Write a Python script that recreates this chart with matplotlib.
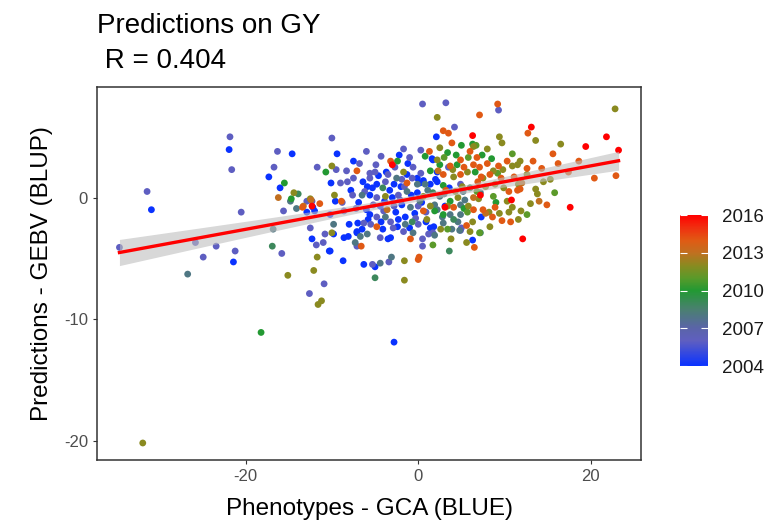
import numpy as np
import matplotlib
matplotlib.use("Agg")
import matplotlib.pyplot as plt
from matplotlib.colors import LinearSegmentedColormap, Normalize

plt.rcParams['font.family'] = ['Liberation Sans', 'DejaVu Sans']
plt.rcParams['axes.unicode_minus'] = False

# points, grouped by year (GCA BLUE, GEBV BLUP)
pts_2004 = [(-21.9, 3.95), (-30.9, -1.0), (-17.3, 1.7), (-21.4, -5.3), (-2.8, -11.9), (-8.7, -5.2),
            (-6.3, -5.5), (-5.0, -5.7), (-9.8, -3.0), (-8.6, -3.3), (-8.1, -3.2), (-7.1, -2.9),
            (-10.2, -4.4), (6.3, -3.5), (7.3, -1.6), (3.6, 0.8), (2.1, 5.0), (-14.6, 3.6), (-9.4, 3.6),
            (-16.0, 0.8), (-12.2, -0.8), (-12.9, -1.2), (-10.1, 1.2), (-9.6, -0.3), (-10.2, -1.4),
            (-8.0, -2.2), (-7.1, -2.8), (-7.0, -2.1), (-12.3, -3.4), (-10.3, -4.4), (-3.7, 2.1),
            (1.6, 3.2), (0.6, 1.4), (2.2, 1.3), (-6.4, 1.3), (-5.9, 0.9), (-4.8, 1.1), (-2.8, 1.1),
            (1.4, 1.1), (-0.1, 0.4), (-5.6, 0.2), (-3.0, 0.0), (-4.4, -0.7), (-1.9, -0.6), (-5.6, -1.4),
            (-2.3, -1.8), (-4.1, -2.6), (-2.4, -2.4), (1.4, -2.5), (-3.2, -3.3), (-12.0, -1.1),
            (-1.3, 1.9), (-0.1, 1.6), (0.2, 1.2), (-3.5, -3.4), (-1.0, -2.5), (-5.8, -1.8),
            (1.7, 3.1), (2.0, 1.5), (3.1, -0.7), (2.2, 2.1), (1.8, -2.4),
            (-7.8, 0.6), (-6.9, -0.4), (-6.0, -1.0), (-5.3, 0.8), (-4.6, 1.8), (-3.9, -0.3),
            (-3.3, 0.6), (-2.6, -1.2), (-2.0, 0.9), (-1.5, -1.6), (-0.8, 0.2), (-0.4, -1.3),
            (0.4, -0.4), (0.9, -2.0), (-6.5, -2.6), (-4.3, -2.0), (-1.2, 2.8), (-2.2, 3.5), (-7.5, 3.0)]
pts_2006 = [(-21.8, 5.0), (-21.6, 2.3), (-31.4, 0.5), (-20.5, -1.2), (-16.7, 2.5), (-34.6, -4.1),
            (-25.8, -3.7), (-23.4, -4.0), (-21.2, -4.4), (-24.9, -4.9), (-10.9, -7.1), (-12.6, -7.9),
            (-5.3, -5.5), (-3.4, -5.3), (-7.1, -4.0), (0.5, -3.4), (0.5, -4.0), (1.2, -3.0), (1.7, -2.9),
            (4.9, -2.7), (3.2, 7.8), (9.3, 7.2), (4.2, 5.8), (3.5, 2.5), (4.9, 1.1), (5.0, -2.5),
            (0.5, 7.7), (0.3, 3.9), (-1.7, 4.0), (-10.0, 4.9), (-16.3, 3.8), (-11.7, 2.5), (-8.3, 2.2),
            (-12.9, -0.3), (-15.6, -1.1), (-9.0, 1.2), (-8.2, 1.3), (-7.5, 1.6), (-7.6, 0.2),
            (-8.6, -1.1), (-10.8, -3.0), (-6.3, -2.1), (-11.8, -3.9), (-15.8, -4.6), (-5.6, 2.0),
            (-5.0, 2.1), (-2.7, 2.5), (-0.6, 2.5), (-5.6, 1.6), (-3.8, 1.3), (-1.9, 1.5), (-0.7, 1.6),
            (-4.8, 0.0), (-2.3, 0.2), (-5.2, -0.6), (-2.8, -0.7), (0.0, -0.7), (-4.8, -1.6),
            (-3.2, -2.0), (0.0, -2.2), (-1.7, -2.8), (-4.4, -3.3), (-12.5, -2.5), (-11.0, -3.7),
            (-12.3, -0.3), (-6.8, 2.8), (-4.3, 3.4),
            (-7.2, -0.9), (-6.2, 0.5), (-5.5, -2.2), (-4.9, 2.7), (-4.0, -1.1), (-3.5, 1.9),
            (-2.9, -2.5), (-2.1, -0.2), (-1.6, 0.9), (-1.0, 3.3), (-0.3, -1.7), (0.3, 2.0),
            (0.9, -1.2), (-8.8, -0.4), (-9.5, 2.3), (-6.0, 3.8)]
pts_2008 = [(-16.8, -2.6), (-26.7, -6.3), (-4.4, -5.4), (-3.1, -4.9), (-7.3, -3.7), (1.9, -3.1),
            (4.8, -2.7), (2.9, -2.1), (7.2, 0.4), (5.4, -0.2), (4.9, -0.6), (4.9, -1.4), (3.7, -1.4),
            (2.8, -1.6), (4.6, -2.0), (-14.8, -0.3), (-14.1, -0.9), (-9.8, -2.2), (-6.7, -3.2),
            (-0.1, 1.1), (0.8, 1.1), (-1.3, 0.5), (2.5, 0.1), (-6.5, 0.2), (-0.9, -0.8), (2.2, -1.0),
            (-3.8, -1.6), (-1.5, -2.2), (-0.6, -2.9),
            (-2.5, 1.6), (0.2, -0.3), (1.1, 0.6), (1.9, -0.6), (3.0, 0.3), (-5.9, -3.0), (3.9, -2.6),
            (5.2, 0.5)]
pts_2009 = [(-16.9, -4.0), (-5.0, -6.6), (-13.9, 0.3), (-4.1, 0.8), (6.0, 0.8), (3.6, -4.4),
            (7.2, -2.9), (4.1, -1.8), (-0.7, -2.0), (1.7, 0.4)]
pts_2010 = [(-18.2, -11.1), (-15.5, 1.2), (-14.7, -0.1), (-10.7, 2.1), (-2.4, 3.0), (1.4, 2.2),
            (2.9, 1.0), (9.0, -0.4), (7.4, 3.5), (4.4, 3.5), (3.4, 3.7), (4.5, 2.7), (2.5, 2.7),
            (3.7, -0.3), (6.3, 4.4), (2.9, -1.4),
            (0.8, 3.4), (1.9, -1.1), (5.3, -0.9), (6.6, 2.1), (8.5, 3.2), (5.0, 4.3)]
pts_2011 = [(1.7, -3.9), (3.4, -2.6), (7.1, -2.9), (10.9, 3.6), (15.8, 0.4), (12.6, -1.4),
            (8.7, 0.1), (6.7, 4.3), (5.8, 3.3), (3.0, 3.3), (9.2, 2.0), (5.7, -1.2), (6.8, 0.5)]
pts_2012 = [(-15.1, -6.4), (-12.1, -6.0), (-11.2, -8.5), (-11.6, -8.8), (-31.9, -20.2), (-1.6, -6.8),
            (-1.6, -5.2), (3.8, -3.4), (5.6, -3.7), (9.4, 5.0), (9.7, 4.5), (13.6, 4.7), (16.5, 4.4),
            (22.8, 7.3), (8.0, 4.0), (2.5, 4.1), (14.5, 1.3), (15.3, 1.5), (13.8, 0.3), (13.6, 0.7),
            (11.6, -1.8), (11.9, -1.1), (10.9, -0.8), (10.3, -0.3), (11.6, 1.1), (8.3, -2.4),
            (9.4, -1.3), (8.2, -1.2), (10.9, 2.6), (11.5, 2.7), (11.8, 3.0), (8.7, 2.2), (9.8, 2.3),
            (7.5, 1.6), (6.4, 4.2), (4.1, 1.7), (5.7, 2.1), (4.3, 0.5), (4.6, 0.0), (3.4, -0.7),
            (5.8, -0.7), (6.3, -2.0), (2.2, 6.6), (-10.0, 2.6), (-14.4, 0.4), (-9.7, 0.2),
            (-10.0, -2.9), (-11.7, -4.9), (-1.7, 2.1), (0.6, 0.1), (-3.8, 0.1), (1.4, -0.7),
            (1.0, -1.8), (2.2, 3.1), (-12.5, -0.1),
            (4.0, 2.3), (5.1, 0.9), (7.0, -0.1), (7.8, 0.9), (8.9, 1.1), (9.9, 0.8), (10.5, -1.2),
            (6.0, -2.8), (12.6, 1.9), (13.0, -0.5), (2.6, -2.6)]
pts_2013 = [(-16.2, 0.0), (-13.3, -0.7), (-12.4, -0.2), (-3.6, -1.0), (2.3, 2.2), (6.4, 0.0),
            (7.8, -1.3), (12.0, 1.2), (14.0, -0.3)]
pts_2014 = [(0.0, -5.1), (-6.6, -4.0), (-0.9, -3.4), (0.1, -4.9), (6.5, -4.1), (9.2, 7.7), (7.1, 6.8),
            (2.9, 5.5), (3.5, 5.3), (12.7, 5.3), (15.6, 3.6), (3.9, 4.5), (13.3, 3.0), (14.3, 2.4),
            (17.4, 2.1), (20.4, 1.6), (22.9, 1.8), (14.9, -0.6), (10.7, -2.0), (11.5, 0.6), (11.8, 0.7),
            (10.5, 0.5), (8.6, -1.6), (7.5, -1.0), (10.3, 3.0), (9.3, 2.6), (9.6, 1.6), (8.3, 1.9),
            (7.1, 2.5), (7.3, 1.7), (6.4, 2.7), (6.0, 3.8), (6.8, 3.3), (4.9, 3.1), (3.7, 2.6),
            (2.9, 1.9), (4.9, 1.9), (4.1, -0.8), (6.4, -1.0), (-7.1, 2.2), (-11.4, -0.5), (-8.9, -0.3),
            (-1.3, 1.2), (0.6, -1.1), (-4.8, -2.4), (-3.2, 3.0), (-13.4, -0.8),
            (3.2, 0.6), (5.3, 2.5), (6.9, 1.3), (8.0, 2.8), (8.9, -0.8), (9.7, -1.9), (11.1, 1.7),
            (12.6, 2.4), (5.6, -2.3), (1.3, 3.8), (16.2, 2.8), (18.6, 3.0)]
pts_2016 = [(12.1, -3.4), (6.3, 5.1), (13.1, 5.8), (19.4, 4.2), (21.8, 5.0), (23.2, 3.9), (17.6, -0.8),
            (10.8, -0.2), (3.1, -0.8), (-3.0, 2.7), (-12.3, -0.7), (7.2, 0.2)]

groups = {2004: pts_2004, 2006: pts_2006, 2008: pts_2008, 2009: pts_2009, 2010: pts_2010,
          2011: pts_2011, 2012: pts_2012, 2013: pts_2013, 2014: pts_2014, 2016: pts_2016}

gca = np.array([p[0] for yr, pts in groups.items() for p in pts])
gebv = np.array([p[1] for yr, pts in groups.items() for p in pts])
year = np.array([yr for yr, pts in groups.items() for p in pts])

# colour scale of the year legend
scale_years = [2004, 2006, 2007, 2008.5, 2010, 2011, 2012, 2013, 2014, 2015, 2016]
scale_cols = ["#0a32ff", "#5f5fc0", "#5a64a8", "#4a8070", "#229933", "#5a9a2a",
              "#8a8a20", "#c07020", "#e05a14", "#f03010", "#ff0000"]
cmap = LinearSegmentedColormap.from_list(
    "yr", [((y - 2004) / 12, c) for y, c in zip(scale_years, scale_cols)])
norm = Normalize(2004, 2016)

fig = plt.figure(figsize=(7.73, 5.23), dpi=100)
ax = fig.add_axes([97 / 773, 1 - 460 / 523, 544 / 773, 373 / 523])

ax.scatter(gca, gebv, c=year, cmap=cmap, norm=norm, s=24, linewidths=0, zorder=2)

# linear fit with 95% confidence band
slope, icpt = np.polyfit(gca, gebv, 1)
n = len(gca)
resid = gebv - (slope * gca + icpt)
s_err = np.sqrt(np.sum(resid ** 2) / (n - 2))
xs = np.linspace(gca.min(), gca.max(), 200)
ys = slope * xs + icpt
se = s_err * np.sqrt(1 / n + (xs - gca.mean()) ** 2 / np.sum((gca - gca.mean()) ** 2))
ax.fill_between(xs, ys - 1.96 * se, ys + 1.96 * se, color="#bebebe", alpha=0.6, lw=0, zorder=3)
ax.plot(xs, ys, color="red", lw=2.4, zorder=4)

ax.set_xlim(-37.2, 25.8)
ax.set_ylim(-21.6, 9.1)
ax.set_xticks([-20, 0, 20])
ax.set_yticks([-20, -10, 0])
ax.tick_params(colors="#333333", labelcolor="#4d4d4d", labelsize=12, length=3, width=0.8)
for sp in ax.spines.values():
    sp.set_color("#333333")
    sp.set_linewidth(1.1)
ax.set_xlabel("Phenotypes - GCA (BLUE)", fontsize=17.5, labelpad=10)
ax.set_ylabel("Predictions - GEBV (BLUP)", fontsize=17.5, labelpad=8)
ax.set_title("Predictions on GY\n R = 0.404", loc="left", fontsize=20, pad=14,
             linespacing=1.45)

cax = fig.add_axes([680 / 773, 1 - 366 / 523, 28 / 773, 151 / 523])
cb = fig.colorbar(plt.cm.ScalarMappable(norm=norm, cmap=cmap), cax=cax)
cb.set_ticks([2004, 2007, 2010, 2013, 2016])
cb.outline.set_visible(False)
cax.tick_params(labelsize=13.5, labelcolor="#1a1a1a", color="white", length=5, width=0.8,
                direction="in", left=True, pad=10)

fig.savefig("out.png", dpi=100)
